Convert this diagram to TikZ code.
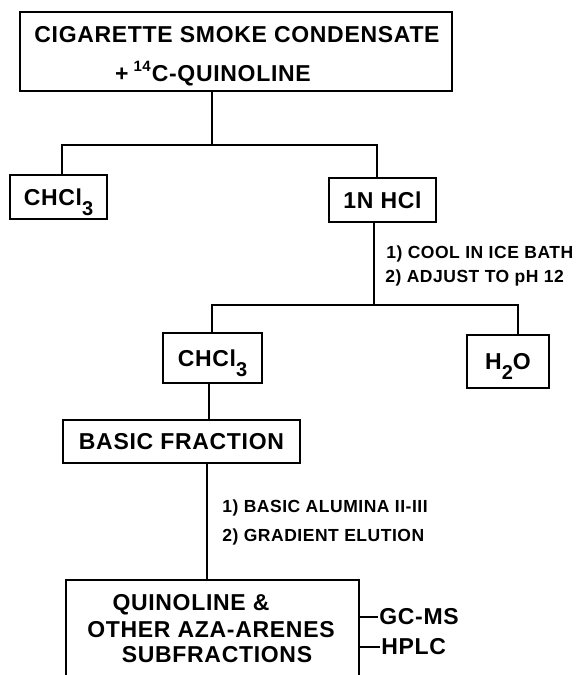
\documentclass[tikz,border=0pt]{standalone}
\usepackage{fontspec}
\setmainfont{Liberation Sans}
\newfontfamily\lf{Liberation Sans}[LetterSpace=3]
\newcommand{\bigfont}{\lf\bfseries\fontsize{23}{27}\selectfont}
\newcommand{\smallfont}{\lf\bfseries\fontsize{17.5}{20}\selectfont}
\newcommand{\dnsub}[1]{\raisebox{-10pt}[0pt][0pt]{\fontsize{20}{20}\selectfont #1}}
\newcommand{\upsup}[1]{\raisebox{10pt}[0pt][0pt]{\fontsize{15}{15}\selectfont #1}}
\begin{document}
\begin{tikzpicture}[x=1pt,y=-1pt,line width=2.7pt,
  box/.style={draw,rectangle,inner sep=0pt,font=\bigfont},
  txt/.style={inner sep=0pt,anchor=base,font=\bigfont},
  lab/.style={inner sep=0pt,anchor=base west,font=\smallfont}]
\useasboundingbox (0,0) rectangle (585,675);
\clip (0,0) rectangle (585,675);
% boxes
\node[box,minimum width=432pt,minimum height=79pt] (top) at (236,51.5) {};
\node[txt] (t1) at (237,42) {CIGARETTE SMOKE CONDENSATE};
\node[txt] (t2) at (213,81) {+\hspace{5pt}\upsup{14}\hspace{1pt}C-QUINOLINE};
\node[box,minimum width=97pt,minimum height=44pt] (c1) at (58.5,197) {CHCl\dnsub{3}};
\node[box,minimum width=107pt,minimum height=44pt] (hcl) at (382.5,200) {1N HCl};
\node[box,minimum width=99pt,minimum height=50pt] (c2) at (212.5,358) {CHCl\dnsub{3}};
\node[box,minimum width=82pt,minimum height=53pt] (h2o) at (508,361.5) {H\dnsub{2}O};
\node[box,minimum width=237pt,minimum height=43pt] (bf) at (181.5,441.5) {BASIC FRACTION};
\node[box,minimum width=293pt,minimum height=130pt] (q) at (212.5,645) {};
\node[txt] (q1) at (191,610) {QUINOLINE \&};
\node[txt] (q2) at (211,637) {OTHER AZA-ARENES};
\node[txt] (q3) at (217,662) {SUBFRACTIONS};
\node[txt,anchor=west] (gc) at (378,617) {GC-MS};
\node[txt,anchor=west] (hp) at (380,647) {HPLC};
% labels
\node[lab] (l1) at (385,258) {1) COOL IN ICE BATH};
\node[lab] (l2) at (384,282) {2) ADJUST TO pH 12};
\node[lab] (l3) at (221,512) {1) BASIC ALUMINA II-III};
\node[lab] (l4) at (221,541) {2) GRADIENT ELUTION};
% junctions
\coordinate (j1) at (212,145);
\coordinate (j1l) at (62,145);
\coordinate (j1r) at (377,145);
\coordinate (j2) at (374,305);
\coordinate (j2l) at (212,305);
\coordinate (j2r) at (518,305);
\coordinate (s3) at (209,400);
\coordinate (s4) at (207,500);
% connectors
\draw (j1 |- top.south) -- (j1);
\draw (j1l |- c1.north) -- (j1l) -- (j1r) -- (j1r |- hcl.north);
\draw (j2 |- hcl.south) -- (j2);
\draw (j2l |- c2.north) -- (j2l) -- (j2r) -- (j2r |- h2o.north);
\draw (s3 |- c2.south) -- (s3 |- bf.north);
\draw (s4 |- bf.south) -- (s4 |- q.north);
\draw (q.east |- gc.west) -- (gc.west);
\draw (q.east |- hp.west) -- (hp.west);
\end{tikzpicture}
\end{document}
